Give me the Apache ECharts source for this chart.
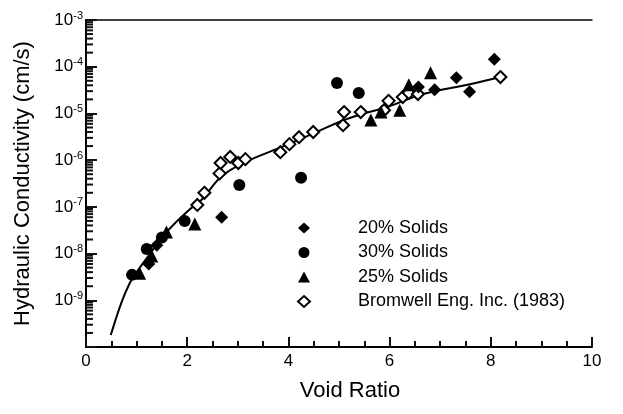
<!DOCTYPE html>
<html>
<head>
<meta charset="utf-8">
<script src="https://cdn.jsdelivr.net/npm/echarts@6/dist/echarts.min.js"></script>
<style>html,body{margin:0;padding:0;background:#fff}#c{width:623px;height:414px}</style>
</head>
<body>
<div id="c"></div>
<script>
// ---- Data ----
var solids20Void = [1.24, 1.40, 2.68, 6.57, 6.89, 7.32, 7.58, 8.07];
var solids20K    = [6.0e-9, 1.5e-8, 6.0e-8, 3.7e-5, 3.2e-5, 5.8e-5, 2.9e-5, 1.45e-4];

var solids30Void = [0.91, 1.20, 1.50, 1.95, 3.03, 4.25, 4.96, 5.39];
var solids30K    = [3.5e-9, 1.26e-8, 2.2e-8, 5.0e-8, 2.95e-7, 4.2e-7, 4.5e-5, 2.75e-5];

var solids25Void = [1.06, 1.30, 1.59, 2.15, 5.63, 5.83, 6.20, 6.38, 6.81];
var solids25K    = [3.8e-9, 8.9e-9, 2.9e-8, 4.3e-8, 7.2e-6, 1.07e-5, 1.17e-5, 4.1e-5, 7.4e-5];

var bromwellVoid = [2.20, 2.34, 2.64, 2.66, 2.85, 3.01, 3.15, 3.84, 4.02, 4.21, 4.49, 5.08, 5.10, 5.43, 5.89, 5.98, 6.26, 6.38, 6.56, 8.19];
var bromwellK    = [1.1e-7, 2.0e-7, 5.2e-7, 8.7e-7, 1.17e-6, 8.7e-7, 1.05e-6, 1.48e-6, 2.2e-6, 3.1e-6, 4.0e-6, 5.6e-6, 1.07e-5, 1.07e-5, 1.17e-5, 1.86e-5, 2.24e-5, 2.75e-5, 2.6e-5, 6.0e-5];

var fitVoid = [0.49, 0.70, 0.87, 1.00, 1.30, 1.63, 2.03, 2.28, 2.68, 3.13, 3.86, 4.51, 5.04, 5.43, 5.96, 6.56, 6.87, 7.54, 8.19];
var fitK    = [1.8e-10, 8.9e-10, 2.4e-9, 4.0e-9, 1.12e-8, 3.2e-8, 8.5e-8, 1.4e-7, 4.5e-7, 8.9e-7, 1.9e-6, 3.8e-6, 6.8e-6, 9.5e-6, 1.38e-5, 2.4e-5, 2.95e-5, 4.1e-5, 6.0e-5];

var seriesNames = ['20% Solids', '30% Solids', '25% Solids', 'Bromwell Eng. Inc. (1983)'];
var xTickLabels = ['0', '2', '4', '6', '8', '10'];
var yExponents  = [-3, -4, -5, -6, -7, -8, -9];

function pairs(xs, ys) { return xs.map(function (x, i) { return [x, ys[i]]; }); }

// minor log tick positions (2..9 in each decade) - axis decoration only
var minorY = [];
for (var e = -10; e < -3; e++) { for (var m = 2; m <= 9; m++) { minorY.push(m * Math.pow(10, e)); } }

var FONT = '"Liberation Sans", Arial, Helvetica, sans-serif';
var chart = echarts.init(document.getElementById('c'));

chart.setOption({
  animation: false,
  grid: { left: 86, right: 31, top: 20, bottom: 67 },
  legend: {
    data: seriesNames,
    orient: 'vertical',
    left: 292, top: 214,
    itemWidth: 12, itemHeight: 11, itemGap: 6.5,
    textStyle: { fontFamily: FONT, fontSize: 18, color: '#000', lineHeight: 18, padding: [0, 0, 0, 43] },
    selectedMode: false
  },
  xAxis: [{
    type: 'value', min: 0, max: 10, interval: 2,
    name: 'Void Ratio', nameLocation: 'middle', nameGap: 33,
    nameTextStyle: { fontFamily: FONT, fontSize: 22, color: '#000', padding: [0, 0, 0, 22] },
    axisLine: { lineStyle: { color: '#000', width: 2 } },
    axisTick: { show: true, inside: true, length: 10, lineStyle: { color: '#111', width: 2 } },
    minorTick: { show: true, splitNumber: 4, length: 6, lineStyle: { color: '#111', width: 2 } },
    axisLabel: { fontFamily: FONT, fontSize: 17, color: '#000', margin: 6,
      formatter: function (v) { return xTickLabels[Math.round(v / 2)]; } },
    splitLine: { show: false }
  }, {
    type: 'value', min: 0, max: 10, position: 'top',
    axisLine: { show: true, lineStyle: { color: '#000', width: 1.5 } },
    axisTick: { show: false }, axisLabel: { show: false }, splitLine: { show: false }
  }],
  yAxis: [{
    type: 'log', min: 1e-10, max: 1e-3, logBase: 10,
    name: 'Hydraulic Conductivity (cm/s)', nameLocation: 'middle', nameGap: 52,
    nameTextStyle: { fontFamily: FONT, fontSize: 22, color: '#000' },
    axisLine: { show: true, lineStyle: { color: '#000', width: 2 } },
    axisTick: { show: true, inside: true, length: 11, lineStyle: { color: '#111', width: 2 } },
    axisLabel: {
      margin: 3, color: '#000',
      formatter: function (v) {
        var ex = Math.round(Math.log10(v));
        if (yExponents.indexOf(ex) < 0) return '';
        return '{b|10}{s|' + ex + '}';
      },
      rich: {
        b: { fontFamily: FONT, fontSize: 17, color: '#000', lineHeight: 20 },
        s: { fontFamily: FONT, fontSize: 11, color: '#000', verticalAlign: 'top', lineHeight: 12 }
      }
    },
    splitLine: { show: false }
  }, {
    type: 'log', min: 1e-10, max: 1e-3, logBase: 10, position: 'right',
    axisLine: { show: true, lineStyle: { color: '#000', width: 1.5 } },
    axisTick: { show: false }, axisLabel: { show: false }, splitLine: { show: false }
  }],
  series: [
    { name: 'fit', type: 'line', data: pairs(fitVoid, fitK), smooth: 0.4, showSymbol: false, symbol: 'none',
      lineStyle: { color: '#000', width: 2 }, z: 1, silent: true },
    { name: seriesNames[0], type: 'scatter', data: pairs(solids20Void, solids20K), symbol: 'diamond', symbolSize: 13,
      itemStyle: { color: '#000', opacity: 1 }, z: 3 },
    { name: seriesNames[1], type: 'scatter', data: pairs(solids30Void, solids30K), symbol: 'circle', symbolSize: 12,
      itemStyle: { color: '#000', opacity: 1 }, z: 3 },
    { name: seriesNames[2], type: 'scatter', data: pairs(solids25Void, solids25K), symbol: 'triangle', symbolSize: 13,
      itemStyle: { color: '#000', opacity: 1 }, z: 3 },
    { name: seriesNames[3], type: 'scatter', data: pairs(bromwellVoid, bromwellK), symbol: 'diamond', symbolSize: 12,
      itemStyle: { color: '#fff', borderColor: '#000', borderWidth: 2, opacity: 1 }, z: 2 },
    { type: 'custom', data: minorY.map(function (v) { return [0, v]; }),
      renderItem: function (params, api) {
        var p = api.coord([api.value(0), api.value(1)]);
        return { type: 'line', shape: { x1: p[0], y1: p[1], x2: p[0] + 7, y2: p[1] }, style: { stroke: '#111', lineWidth: 2 } };
      } }
  ]
});
</script>
</body>
</html>
